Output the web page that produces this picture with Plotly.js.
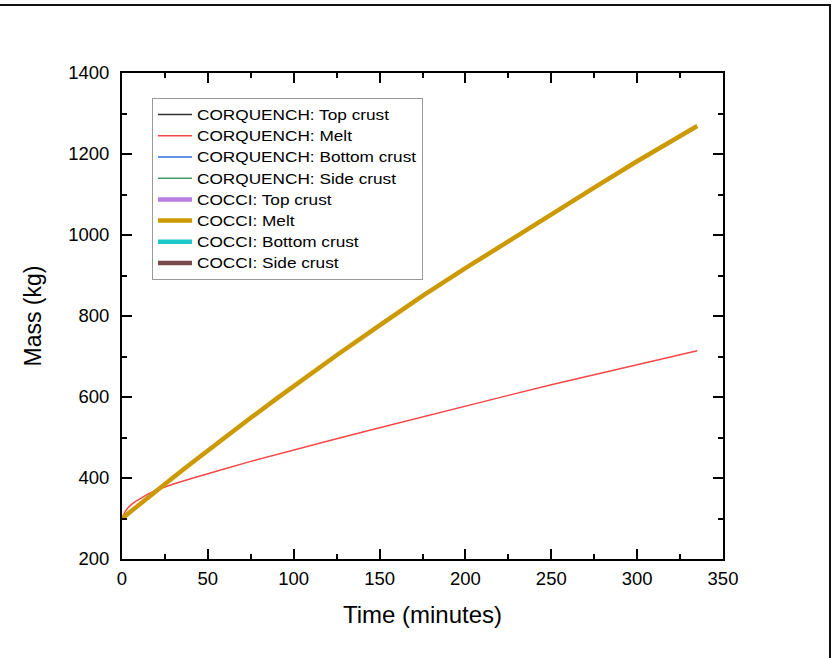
<!DOCTYPE html>
<html>
<head>
<meta charset="utf-8">
<script src="https://cdn.plot.ly/plotly-3.0.1.min.js"></script>
<style>
  html, body { margin: 0; padding: 0; background: #fff; }
  #chart { width: 832px; height: 658px; }
  text.legendtext {
    transform-box: fill-box;
    transform-origin: 0% 50%;
    transform: scaleX(1.23);
  }
</style>
</head>
<body>
<div id="chart"></div>
<script>
// Time (minutes)
const time = [0, 1, 2, 3, 5, 7.5, 10, 15, 20, 25, 30, 40, 50, 60, 75, 90, 100, 125, 150, 175, 200, 225, 250, 275, 300, 325, 335];
// CORQUENCH melt mass (kg)
const corquenchMelt = [300, 310, 318, 324, 333, 341, 348, 360, 370, 378, 385, 398, 411, 423, 441, 458, 469, 497, 524, 551, 578, 604, 630, 655, 680, 704, 714];
// COCCI melt mass (kg)
const cocciMelt = [300, 303.5, 307, 310.4, 317.2, 325.8, 334.3, 351.3, 368.3, 385.1, 401.9, 435.1, 468, 500.5, 548.6, 595.9, 627, 703, 777, 849.6, 918, 985, 1051, 1117, 1182, 1246, 1269];
// Crust masses (below the visible range)
const crustTime = [0, 335];
const corquenchTopCrust = [0, 0];
const corquenchBottomCrust = [0, 0];
const corquenchSideCrust = [0, 0];
const cocciTopCrust = [0, 0];
const cocciBottomCrust = [0, 0];
const cocciSideCrust = [0, 0];

const seriesNames = [
  'CORQUENCH: Top crust', 'CORQUENCH: Melt', 'CORQUENCH: Bottom crust', 'CORQUENCH: Side crust',
  'COCCI: Top crust', 'COCCI: Melt', 'COCCI: Bottom crust', 'COCCI: Side crust'
];

const W = 832, H = 658;
const L = 122, R = 109, T = 73, B = 99;
const pw = W - L - R, ph = H - T - B;
const px = v => (v - L) / pw;
const py = v => (H - B - v) / ph;

const thin = 1.5, thick = 4.5;
const traces = [
  {x: crustTime, y: corquenchTopCrust, name: seriesNames[0], line: {color: '#333333', width: thin}},
  {x: time, y: corquenchMelt, name: seriesNames[1], line: {color: '#f44848', width: thin}},
  {x: crustTime, y: corquenchBottomCrust, name: seriesNames[2], line: {color: '#2f6fdf', width: thin}},
  {x: crustTime, y: corquenchSideCrust, name: seriesNames[3], line: {color: '#3c9d6a', width: thin}},
  {x: crustTime, y: cocciTopCrust, name: seriesNames[4], line: {color: '#b57ee0', width: thick}},
  {x: time, y: cocciMelt, name: seriesNames[5], line: {color: '#cc9900', width: thick}},
  {x: crustTime, y: cocciBottomCrust, name: seriesNames[6], line: {color: '#1cc8c8', width: thick}},
  {x: crustTime, y: cocciSideCrust, name: seriesNames[7], line: {color: '#7b4a4a', width: thick}}
].map(t => Object.assign({type: 'scatter', mode: 'lines'}, t));

const font = 'Arial, "Liberation Sans", sans-serif';
const axisCommon = {
  showgrid: false, zeroline: false,
  showline: true, linecolor: '#000', linewidth: 2,
  mirror: 'allticks', ticks: 'inside', ticklen: 10, tickwidth: 2, tickcolor: '#000',
  tickfont: {family: font, size: 18.5, color: '#000'},
  minor: {ticks: 'inside', ticklen: 5, tickwidth: 2, tickcolor: '#000', showgrid: false}
};

const layout = {
  width: W, height: H,
  margin: {l: L, r: R, t: T, b: B},
  paper_bgcolor: '#fff', plot_bgcolor: '#fff',
  showlegend: true,
  legend: {
    x: px(152), y: py(98), xanchor: 'left', yanchor: 'top',
    bordercolor: '#999', borderwidth: 1, bgcolor: '#fff',
    font: {family: font, size: 14, color: '#000'},
    tracegroupgap: 0, itemwidth: 34
  },
  xaxis: Object.assign({}, axisCommon, {
    range: [0, 350], dtick: 50, tick0: 0,
    ticklabelstandoff: 2,
    minor: Object.assign({}, axisCommon.minor, {dtick: 25}),
    title: {text: 'Time (minutes)', font: {family: font, size: 24, color: '#000'}, standoff: 18}
  }),
  yaxis: Object.assign({}, axisCommon, {
    range: [200, 1400], dtick: 200, tick0: 0,
    ticklabelstandoff: 7,
    minor: Object.assign({}, axisCommon.minor, {dtick: 100}),
    title: {text: 'Mass (kg)', font: {family: font, size: 23, color: '#000'}, standoff: 20}
  }),
  shapes: [
    {type: 'line', xref: 'paper', yref: 'paper', x0: px(0), x1: px(831), y0: py(5), y1: py(5), line: {color: '#111', width: 2}},
    {type: 'line', xref: 'paper', yref: 'paper', x0: px(830), x1: px(830), y0: py(5), y1: py(658), line: {color: '#111', width: 2}}
  ]
};

Plotly.newPlot('chart', traces, layout, {displayModeBar: false, staticPlot: true});
</script>
</body>
</html>
